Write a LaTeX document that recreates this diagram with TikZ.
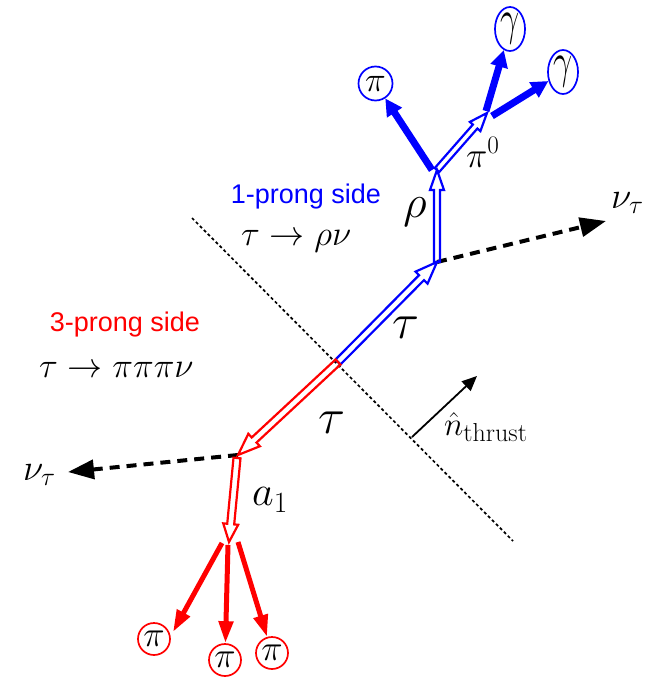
\RequirePackage{fix-cm}
\documentclass[tikz,border=0pt]{standalone}
\usepackage{graphicx}
\usepackage{fontspec}
\newfontfamily\lsans{Liberation Sans}
\usetikzlibrary{calc,arrows.meta,shapes.geometric}
\definecolor{pblue}{RGB}{0,0,255}
\definecolor{pred}{RGB}{255,0,0}
% hollow arrow: style, from, to, shaft half width, head half width, head length
\newcommand\hollowarrow[6]{%
  \coordinate (hb) at ($(#3)!#6!(#2)$);
  \draw[#1] ($(#2)!#4!-90:(#3)$) -- ($(hb)!#4!-90:(#3)$) -- ($(hb)!#5!-90:(#3)$) -- (#3)
    -- ($(hb)!#5!90:(#3)$) -- ($(hb)!#4!90:(#3)$) -- ($(#2)!#4!90:(#3)$) -- cycle;}
\tikzset{
  hollowb/.style={draw=pblue, line width=2.2pt, line join=miter},
  hollowr/.style={draw=pred, line width=2.2pt, line join=miter},
  bthick/.style={draw=pblue, line width=7pt, -{Triangle[length=17pt,width=17pt]}},
  rthick/.style={draw=pred, line width=5pt, -{Triangle[length=22pt,width=14pt]}},
  nuline/.style={draw=black, line width=4pt, dash pattern=on 10pt off 7pt, -{Triangle[length=26pt,width=19pt]}},
  plane/.style={draw=black, line width=1.7pt, dash pattern=on 3pt off 2.6pt},
  bcirc/.style={draw=pblue, line width=1.7pt, circle, inner sep=0pt, minimum size=34pt, font=\fontsize{35}{38}\selectfont},
  bell/.style={draw=pblue, line width=1.7pt, ellipse, inner sep=0pt, minimum width=30pt, minimum height=44pt, font=\fontsize{34}{38}\selectfont},
  rcirc/.style={draw=pred, line width=1.7pt, circle, inner sep=0pt, minimum size=32pt, font=\fontsize{36}{38}\selectfont},
  biglab/.style={font=\fontsize{50}{54}\selectfont, inner sep=0pt},
  midlab/.style={font=\fontsize{42}{46}\selectfont, inner sep=0pt},
  nulab/.style={font=\fontsize{37}{40}\selectfont, inner sep=0pt, anchor=base west},
  declab/.style={font=\fontsize{35}{40}\selectfont, inner sep=0pt, anchor=base west},
  sidelab/.style={font=\lsans\fontsize{27}{30}\selectfont, inner sep=0pt},
}
\begin{document}
\begin{tikzpicture}[x=1pt,y=-1pt]
\useasboundingbox (0,0) rectangle (650,677);
% key points
\coordinate (O) at (338,362);
\coordinate (B1) at (437,262);
\coordinate (B2) at (437,170);
\coordinate (P0) at (487,113);
\coordinate (R1) at (238,455);
\coordinate (A1s) at (237,458);
\coordinate (A1) at (229,542);
\coordinate (pl1) at (192,218);
\coordinate (pl2) at (513,541);
\coordinate (nt) at (412,437);
\coordinate (ntip) at (477,376);
\coordinate (nuT) at (606,221);
\coordinate (nuB) at (68,472);
% thrust plane
\draw[plane] (pl1) -- (pl2);
\draw[line width=1.8pt, -{Triangle[length=15pt,width=13pt]}] (nt) -- (ntip);
\node[font=\fontsize{33}{36}\selectfont, inner sep=0pt, anchor=base west] (nlab) at (444,435) {$\hat{n}_{\mbox{\fontsize{26}{28}\selectfont thrust}}$};
% neutrinos
\draw[nuline] (B1) -- (nuT);
\draw[nuline] (R1) -- (nuB);
\node[nulab] (nutlab) at (611,208) {$\nu_\tau$};
\node[nulab] (nublab) at (23,480) {$\nu_\tau$};
% blue side
\hollowarrow{hollowb}{O}{B1}{3.5pt}{8.5pt}{22pt}
\hollowarrow{hollowb}{B1}{B2}{3pt}{7pt}{20pt}
\hollowarrow{hollowb}{B2}{P0}{3pt}{7pt}{18pt}
\node[bcirc] (bpi) at (375.5,83.5) {$\pi$};
\node[bell] (g1) at (510,29) {\scalebox{1}[1.45]{$\gamma$}};
\node[bell] (g2) at (563,72) {\scalebox{1}[1.45]{$\gamma$}};
\coordinate (bpa) at (432,170);
\coordinate (ga) at (486,111);
\coordinate (gb) at (492,116);
\draw[bthick] (bpa) -- (bpi);
\draw[bthick] (ga) -- (g1);
\draw[bthick] (gb) -- (g2);
\node[biglab] (taub) at (406,328) {$\tau$};
\node[font=\fontsize{46}{50}\selectfont, inner sep=0pt] (rho) at (415,212) {$\rho$};
\node[font=\fontsize{36}{40}\selectfont, inner sep=0pt, anchor=base west] (pi0) at (466,167) {$\pi^0$};
% red side
\hollowarrow{hollowr}{O}{R1}{3.5pt}{8.5pt}{22pt}
\hollowarrow{hollowr}{A1s}{A1}{3.5pt}{7.5pt}{18pt}
\node[rcirc] (rp1) at (154,639) {$\pi$};
\node[rcirc] (rp2) at (225,660) {$\pi$};
\node[rcirc] (rp3) at (272,653) {$\pi$};
\coordinate (rs1) at (222,543);
\coordinate (rs2) at (228,545);
\coordinate (rs3) at (238,542);
\coordinate (rt1) at (173,632);
\draw[rthick] (rs1) -- (rt1);
\draw[rthick] (rs2) -- (rp2);
\draw[rthick] (rs3) -- (rp3);
\node[biglab] (taur) at (332,423) {$\tau$};
\node[midlab] (a1lab) at (270,500) {$a_1$};
% texts
\node[sidelab, pblue] (one) at (306,197) {1-prong side};
\node[declab] (rhodec) at (241,245) {$\tau\to\rho\nu$};
\node[sidelab, pred] (three) at (125,325) {3-prong side};
\node[declab] (pidec) at (39,377) {$\tau\to\pi\pi\pi\nu$};
\end{tikzpicture}
\end{document}
